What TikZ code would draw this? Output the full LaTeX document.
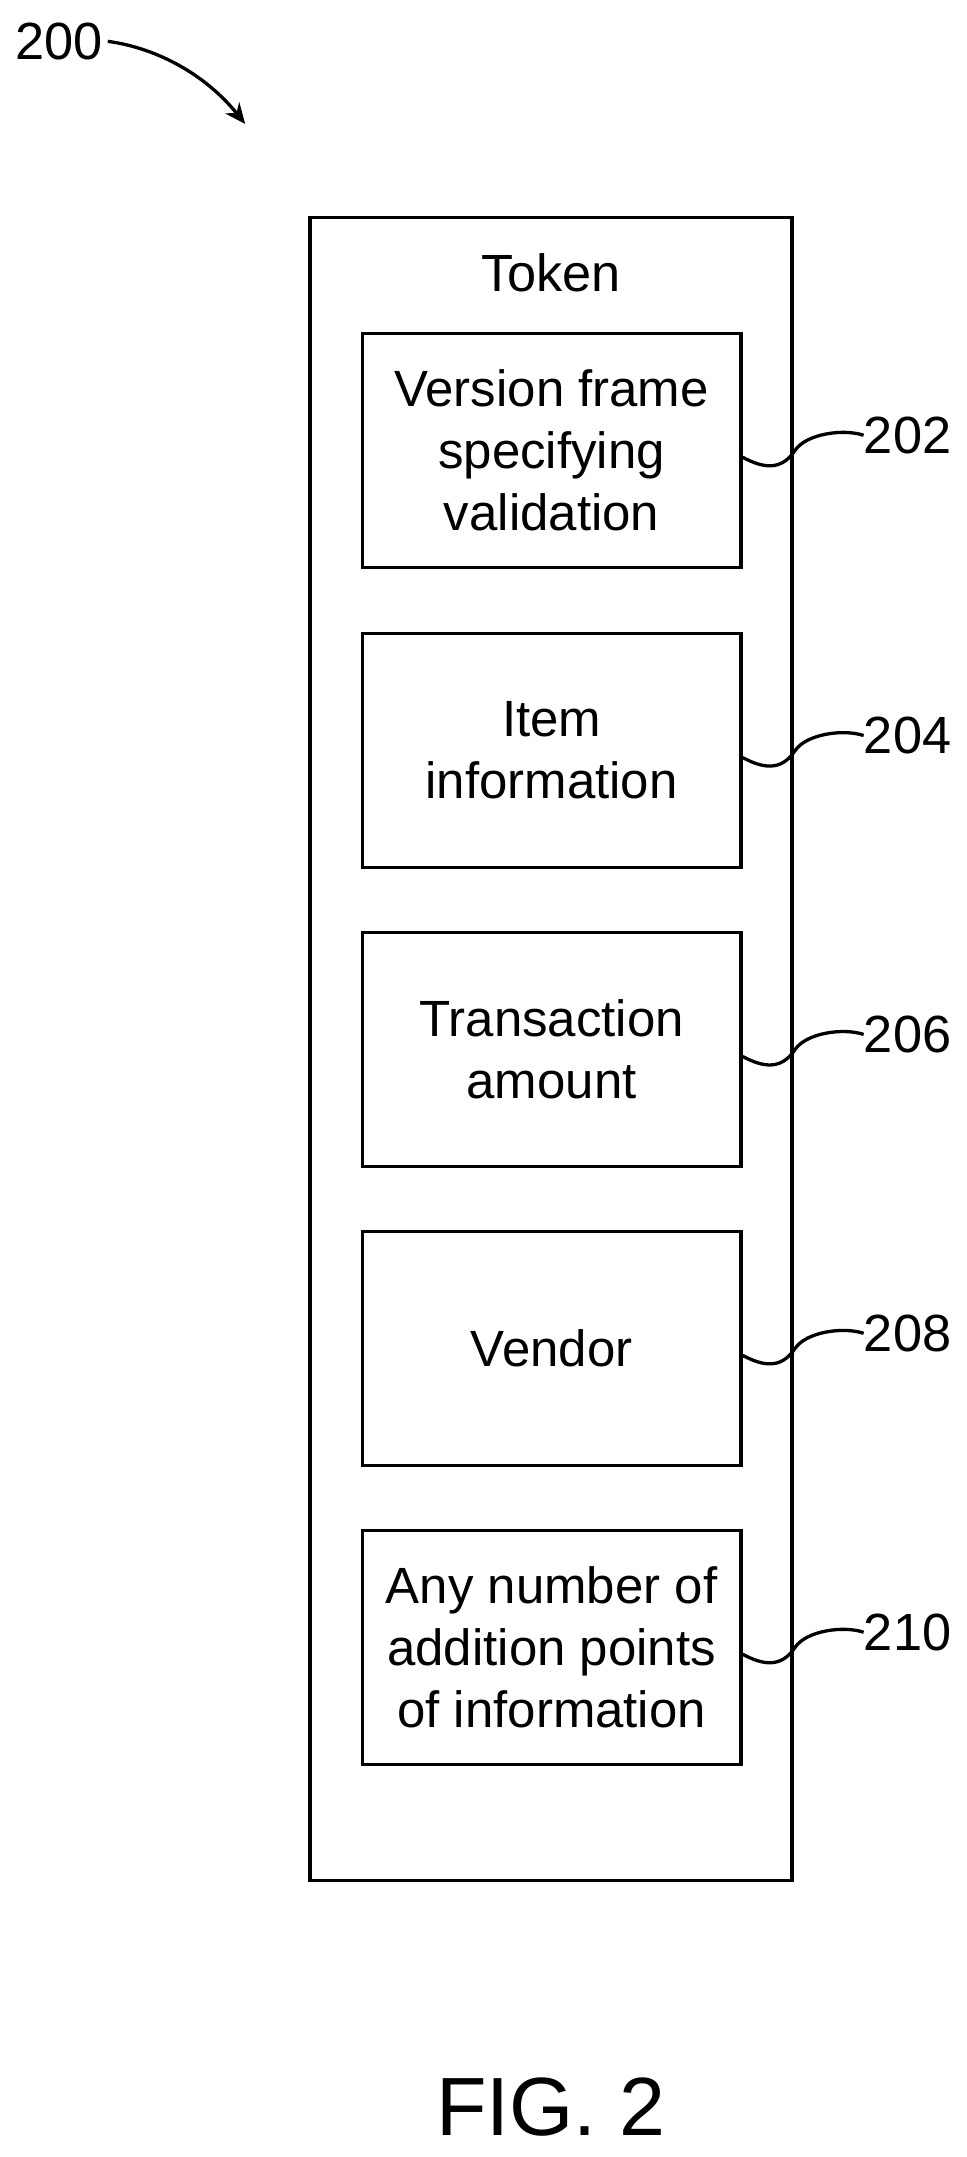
\documentclass[tikz,border=0pt]{standalone}
\usepackage{fontspec}
\setmainfont{Liberation Sans}
\usetikzlibrary{arrows.meta}
\begin{document}
\begin{tikzpicture}[x=1pt,y=-1pt,
  box/.style={draw,line width=2.4pt,minimum width=275pt,minimum height=170pt,align=center,font=\fontsize{37}{45}\selectfont,inner sep=0pt},
  lbl/.style={font=\fontsize{38}{42}\selectfont,anchor=west,inner sep=0pt},
  lead/.style={line width=2.4pt}]
\useasboundingbox (0,0) rectangle (702,1566);
\node[draw,line width=2.4pt,minimum width=350pt,minimum height=1207pt,inner sep=0pt] (outer) at (400,761.5) {};
\node[font=\fontsize{38}{42}\selectfont] (tok) at (400,198) {Token};
\foreach \n/\y/\t/\l in {a/327/{Version frame\\specifying\\validation}/202, b/545/{Item\\information}/204, c/762/{Transaction\\amount}/206, d/979/{Vendor}/208, e/1196/{Any number of\\addition points\\of information}/210}{
  \node[box] (\n) at (400.5,\y) {\t};
  \node[lbl] (l\n) at (627,\y-11) {\l};
  \draw[lead] (\n.east) ++(0,5) coordinate (s\n) .. controls +(15,8) and +(-10,15) .. ++(38,-5) .. controls +(8,-12) and +(-15,-5) .. (l\n.west);
}
\node[font=\fontsize{38}{42}\selectfont] (n200) at (43,30) {200};
\draw[line width=2.4pt,-{Stealth[length=15pt,width=13pt]}] (n200.east) .. controls (115,35) and (150,55) .. (178,90);
\node[font=\fontsize{60}{66}\selectfont] (fig) at (400,1530) {FIG. 2};
\end{tikzpicture}
\end{document}
